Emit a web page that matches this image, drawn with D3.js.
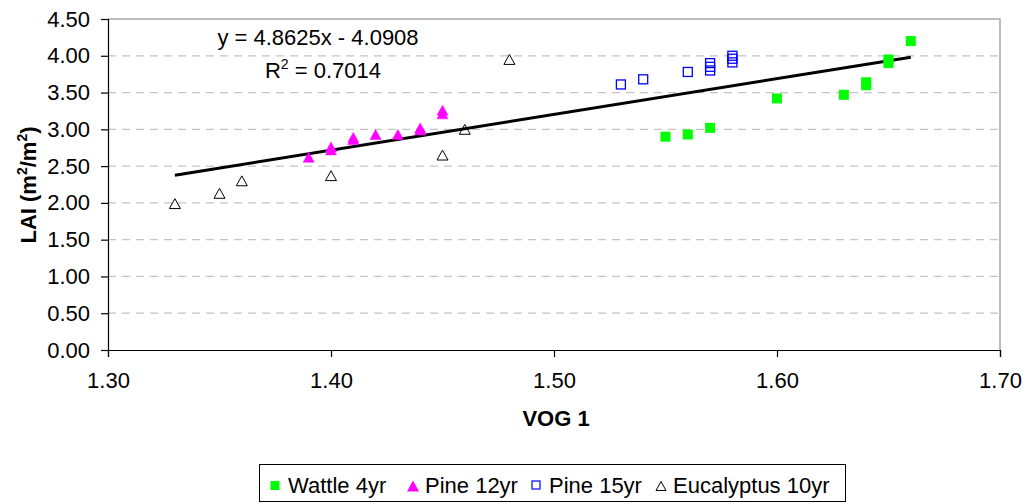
<!DOCTYPE html>
<html><head><meta charset="utf-8">
<script src="https://cdn.jsdelivr.net/npm/d3@7"></script>
<style>body{margin:0;background:#fff;} svg{display:block;font-family:"Liberation Sans",Arial,sans-serif;}</style>
</head><body>
<svg id="c" width="1028" height="503"></svg>
<script>
const seriesNames = ["Wattle 4yr","Pine 12yr","Pine 15yr","Eucalyptus 10yr"];
const wattleX = [1.55,1.56,1.57,1.60,1.63,1.64,1.64,1.65,1.65,1.66];
const wattleY = [2.90,2.93,3.02,3.42,3.47,3.60,3.64,3.90,3.95,4.20];
const pine12X = [1.39,1.40,1.40,1.41,1.41,1.42,1.43,1.44,1.44,1.45,1.45];
const pine12Y = [2.62,2.72,2.76,2.86,2.89,2.93,2.93,2.99,3.02,3.21,3.26];
const pine15X = [1.53,1.54,1.56,1.57,1.57,1.57,1.58,1.58,1.58];
const pine15Y = [3.61,3.68,3.78,3.80,3.85,3.90,3.91,3.96,4.00];
const eucX = [1.33,1.35,1.36,1.40,1.45,1.46,1.48];
const eucY = [1.99,2.13,2.30,2.37,2.65,3.00,3.95];
const xTicks = [1.30,1.40,1.50,1.60,1.70];
const yTicks = [0,0.5,1,1.5,2,2.5,3,3.5,4,4.5];
const trendSlope = 4.8625, trendIntercept = -4.0908, trendX = [1.33,1.66];
const eqText = "y = 4.8625x - 4.0908";
const r2Value = "0.7014";

const svg = d3.select("#c");
const L=108,R=1000,T=19,B=350;
const x = d3.scaleLinear().domain([1.30,1.70]).range([L,R]);
const y = d3.scaleLinear().domain([0,4.5]).range([B,T]);

// gridlines
svg.append("g").selectAll("line").data(yTicks.filter(v=>v>0&&v<4.5)).join("line")
  .attr("x1",L).attr("x2",R).attr("y1",d=>y(d)).attr("y2",d=>y(d))
  .attr("stroke","#c4c4c4").attr("stroke-width",1.2).attr("stroke-dasharray","8,6");
// top & right border
svg.append("path").attr("d",`M${L},${y(4.5)}H${x(1.70)}V${B}`)
  .attr("fill","none").attr("stroke","#a6a6a6").attr("stroke-width",1.5);

// axes
const fs = 22;
const yAxis = svg.append("g").attr("transform",`translate(${L},0)`)
  .call(d3.axisLeft(y).tickValues(yTicks).tickFormat(d3.format(".2f")).tickSize(7).tickPadding(11));
const xAxis = svg.append("g").attr("transform",`translate(0,${B})`)
  .call(d3.axisBottom(x).tickValues(xTicks).tickFormat(d3.format(".2f")).tickSize(7).tickPadding(15));
[yAxis,xAxis].forEach(a=>{
  a.select(".domain").attr("stroke","#000").attr("stroke-width",1.2);
  a.selectAll(".tick line").attr("stroke","#000").attr("stroke-width",1.2);
  a.selectAll("text").attr("font-size",fs).attr("fill","#000").attr("font-family","Liberation Sans, Arial, sans-serif");
});

// trendline
svg.append("line").attr("x1",x(trendX[0])).attr("y1",y(trendSlope*trendX[0]+trendIntercept))
  .attr("x2",x(trendX[1])).attr("y2",y(trendSlope*trendX[1]+trendIntercept))
  .attr("stroke","#000").attr("stroke-width",3);

// markers
function tri(s){const h=s*0.9;return `M0,${-h/2}L${s/2},${h/2}L${-s/2},${h/2}Z`;}
const g = svg.append("g");
g.selectAll(".euc").data(eucX.map((v,i)=>[v,eucY[i]])).join("path")
  .attr("d",tri(11)).attr("transform",d=>`translate(${x(d[0])},${y(d[1])})`)
  .attr("fill","none").attr("stroke","#000").attr("stroke-width",1);
g.selectAll(".p12").data(pine12X.map((v,i)=>[v,pine12Y[i]])).join("path")
  .attr("d",tri(11)).attr("transform",d=>`translate(${x(d[0])},${y(d[1])})`)
  .attr("fill","#ff00ff").attr("stroke","#ff00ff").attr("stroke-width",0.5);
g.selectAll(".p15").data(pine15X.map((v,i)=>[v,pine15Y[i]])).join("rect")
  .attr("x",d=>x(d[0])-4.5).attr("y",d=>y(d[1])-4.5).attr("width",9).attr("height",9)
  .attr("fill","none").attr("stroke","#0000ff").attr("stroke-width",1.3);
g.selectAll(".w").data(wattleX.map((v,i)=>[v,wattleY[i]])).join("rect")
  .attr("x",d=>x(d[0])-5).attr("y",d=>y(d[1])-5).attr("width",10).attr("height",10)
  .attr("fill","#00ff00");

// equation
svg.append("text").attr("x",318).attr("y",45).attr("text-anchor","middle").attr("font-size",fs).text(eqText);
const r2 = svg.append("text").attr("x",323).attr("y",78).attr("text-anchor","middle").attr("font-size",fs);
r2.append("tspan").text("R");
r2.append("tspan").attr("font-size",14).attr("dy",-9).text("2");
r2.append("tspan").attr("dy",9).text(" = "+r2Value);

// axis titles
svg.append("text").attr("x",556).attr("y",426).attr("text-anchor","middle")
  .attr("font-size",fs).attr("font-weight","bold").text("VOG 1");
const yt = svg.append("text").attr("transform","translate(36,185) rotate(-90)").attr("text-anchor","middle")
  .attr("font-size",fs).attr("font-weight","bold");
yt.append("tspan").text("LAI (m");
yt.append("tspan").attr("font-size",14).attr("dy",-9).text("2");
yt.append("tspan").attr("dy",9).text("/m");
yt.append("tspan").attr("font-size",14).attr("dy",-9).text("2");
yt.append("tspan").attr("dy",9).text(")");

// legend
const lg = svg.append("g");
lg.append("rect").attr("x",259.5).attr("y",464.5).attr("width",586).attr("height",37)
  .attr("fill","#fff").attr("stroke","#000").attr("stroke-width",1);
const items = [
  {name:seriesNames[0],mx:275,tx:288},
  {name:seriesNames[1],mx:413,tx:425},
  {name:seriesNames[2],mx:536,tx:549},
  {name:seriesNames[3],mx:661,tx:673}
];
const ly=484;
lg.append("rect").attr("x",items[0].mx-4.5).attr("y",ly-3).attr("width",9).attr("height",9).attr("fill","#00ff00");
lg.append("path").attr("d",tri(12)).attr("transform",`translate(${items[1].mx},${ly+2})`).attr("fill","#ff00ff");
lg.append("rect").attr("x",items[2].mx-4).attr("y",ly-3).attr("width",8).attr("height",8).attr("fill","none").attr("stroke","#0000ff").attr("stroke-width",1.2);
lg.append("path").attr("d",tri(10)).attr("transform",`translate(${items[3].mx},${ly+2})`).attr("fill","none").attr("stroke","#000");
lg.selectAll("text.l").data(items).join("text").attr("x",d=>d.tx).attr("y",ly+9)
  .attr("font-size",fs).text(d=>d.name);
</script>
</body></html>
